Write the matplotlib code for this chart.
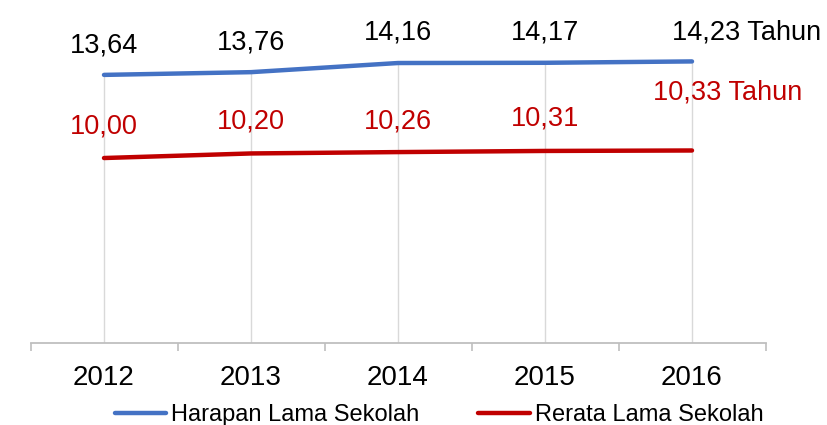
import matplotlib
matplotlib.use("Agg")
import matplotlib.pyplot as plt

plt.rcParams['font.family'] = ['Liberation Sans', 'DejaVu Sans']

years = ["2012", "2013", "2014", "2015", "2016"]
harapan = [13.64, 13.76, 14.16, 14.17, 14.23]
rerata = [10.00, 10.20, 10.26, 10.31, 10.33]
harapan_labels = ["13,64", "13,76", "14,16", "14,17", "14,23 Tahun"]
rerata_labels = ["10,00", "10,20", "10,26", "10,31", "10,33 Tahun"]

blue = "#4472C4"
red = "#C00000"
grid_col = "#D9D9D9"

fig = plt.figure(figsize=(8.27, 4.25), dpi=100)
ax = fig.add_axes([30.5 / 827, 1 - 343 / 425, 735 / 827, 322 / 425])

x = list(range(len(years)))
y_min = 1.9

# drop lines from the top series down to the axis
ax.vlines(x, y_min, harapan, color=grid_col, lw=1.0, zorder=1)

ax.plot(x, harapan, color=blue, lw=3.2, solid_capstyle='round',
        label="Harapan Lama Sekolah", zorder=3)
ax.plot(x, rerata, color=red, lw=3.2, solid_capstyle='round',
        label="Rerata Lama Sekolah", zorder=3)

# data labels (offsets in points)
h_off = [(0, 21), (0, 21), (0, 22), (0, 22), (39, 21)]
r_off = [(0, 23), (0, 23), (0, 22), (0, 23), (26, 42)]
for i in x:
    ax.annotate(harapan_labels[i], (i, harapan[i]), xytext=h_off[i],
                textcoords='offset points', ha='center', va='center',
                fontsize=19.5, color='black')
    ax.annotate(rerata_labels[i], (i, rerata[i]), xytext=r_off[i],
                textcoords='offset points', ha='center', va='center',
                fontsize=19.5, color=red)

ax.set_xlim(-0.5, len(years) - 0.5)
ax.set_ylim(y_min, 16)
ax.set_yticks([])

for s in ['top', 'right', 'left']:
    ax.spines[s].set_visible(False)
ax.spines['bottom'].set_color("#BFBFBF")
ax.spines['bottom'].set_linewidth(1.3)

# tick marks at category boundaries, labels at centres
ax.set_xticks([i - 0.5 for i in range(len(years) + 1)])
ax.set_xticklabels([])
ax.tick_params(axis='x', which='major', length=6, width=1.2, color="#BFBFBF")
ax.set_xticks(x, minor=True)
ax.set_xticklabels(years, minor=True, fontsize=20)
ax.tick_params(axis='x', which='minor', length=0, pad=16)

fig.legend(loc='lower center', bbox_to_anchor=(0.531, -0.052), ncol=2,
           frameon=False, fontsize=17, handlelength=2.2, handletextpad=0.2,
           columnspacing=2.5)

fig.savefig("out.png", dpi=100)
